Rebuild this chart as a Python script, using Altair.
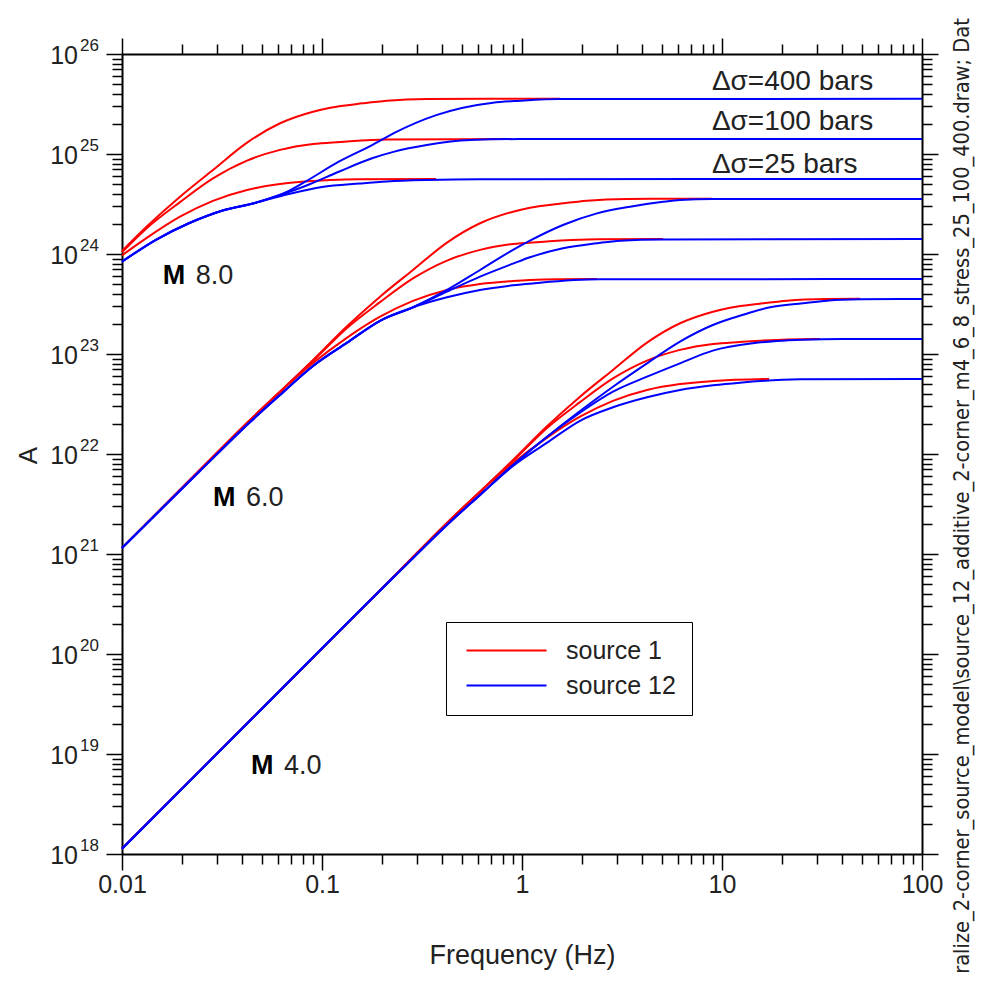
import altair as alt
import pandas as pd

FONT = "Liberation Sans"
TXT = "#222222"

# ---------------- curves: (frequency Hz, A) ----------------
# M 8.0, source 1
M8_S1_400 = [(0.01, 1.07e24), (0.0133, 1.88e24), (0.0195, 3.74e24), (0.0285, 6.92e24), (0.0422, 1.3e25),
             (0.0617, 2.03e25), (0.0902, 2.65e25), (0.11, 2.9e25), (0.16, 3.21e25), (0.211, 3.41e25),
             (0.335, 3.55e25), (1.55, 3.57e25)]
M8_S1_100 = [(0.01, 1.04e24), (0.0133, 1.81e24), (0.0195, 3.3e24), (0.0285, 5.7e24), (0.0422, 8.6e24),
             (0.0617, 1.1e25), (0.0902, 1.26e25), (0.123, 1.32e25), (0.211, 1.4e25), (0.891, 1.41e25)]
M8_S1_25 = [(0.01, 9.7e23), (0.0133, 1.45e24), (0.0195, 2.36e24), (0.0285, 3.4e24), (0.0422, 4.37e24),
            (0.0617, 5.01e24), (0.0902, 5.37e24), (0.11, 5.5e24), (0.15, 5.6e24), (0.372, 5.62e24)]
# M 8.0, source 12
M8_S12_LOW = [(0.01, 8.38e23), (0.0147, 1.38e24), (0.0216, 2.03e24), (0.0316, 2.71e24), (0.0462, 3.24e24)]
M8_S12_25 = M8_S12_LOW + [(0.0683, 3.98e24), (0.1, 4.68e24), (0.155, 5.07e24), (0.211, 5.31e24),
                          (0.335, 5.5e24), (0.617, 5.6e24), (100, 5.62e24)]
M8_S12_100 = M8_S12_LOW + [(0.0683, 4.17e24), (0.0825, 4.79e24), (0.1213, 6.65e24), (0.178, 9.06e24),
                           (0.2275, 1.05e25), (0.3338, 1.23e25), (0.55, 1.38e25), (0.977, 1.41e25), (100, 1.41e25)]
M8_S12_400 = M8_S12_LOW + [(0.0683, 4.27e24), (0.0825, 5.28e24), (0.1213, 8.38e24), (0.178, 1.23e25),
                           (0.2275, 1.61e25), (0.3725, 2.45e25), (0.7166, 3.26e25), (0.977, 3.41e25),
                           (1.55, 3.55e25), (100, 3.56e25)]

# M 6.0, source 1
M6_S1_LOW = [(0.01, 1.15e21), (0.0245, 6.92e21), (0.0437, 2.19e22), (0.0617, 4.2e22)]
M6_S1_400 = M6_S1_LOW + [(0.0902, 8.71e22), (0.133, 1.88e23), (0.195, 3.74e23), (0.285, 6.92e23),
                         (0.4217, 1.3e24), (0.617, 2.03e24), (0.9016, 2.65e24), (1.096, 2.9e24),
                         (1.603, 3.21e24), (2.113, 3.41e24), (3.35, 3.55e24), (8.91, 3.57e24)]
M6_S1_100 = M6_S1_LOW + [(0.0902, 8.51e22), (0.133, 1.81e23), (0.195, 3.3e23), (0.285, 5.7e23),
                         (0.4217, 8.6e23), (0.617, 1.1e24), (0.9016, 1.26e24), (1.23, 1.32e24),
                         (2.113, 1.4e24), (5.07, 1.41e24)]
M6_S1_25 = M6_S1_LOW + [(0.0902, 8.13e22), (0.133, 1.45e23), (0.195, 2.36e23), (0.285, 3.4e23),
                        (0.4217, 4.37e23), (0.617, 5.01e23), (0.9016, 5.37e23), (1.096, 5.5e23),
                        (1.5, 5.6e23), (2.371, 5.62e23)]
# M 6.0, source 12
M6_S12_LOW = [(0.01, 1.15e21), (0.0245, 6.76e21), (0.0437, 2.09e22), (0.0617, 3.9e22), (0.0902, 7.59e22),
              (0.133, 1.29e23), (0.195, 2.15e23), (0.285, 2.93e23)]
M6_S12_25 = M6_S12_LOW + [(0.4217, 3.69e23), (0.617, 4.37e23), (0.9016, 4.86e23), (1.23, 5.17e23),
                          (2.455, 5.58e23), (100, 5.62e23)]
M6_S12_100 = M6_S12_LOW + [(0.4217, 4.2e23), (0.617, 5.93e23), (0.9016, 8.0e23), (1.096, 9.27e23),
                           (1.603, 1.14e24), (2.371, 1.28e24), (3.09, 1.36e24), (5.07, 1.4e24), (100, 1.41e24)]
M6_S12_400 = M6_S12_LOW + [(0.4217, 4.37e23), (0.617, 6.92e23), (0.9016, 1.1e24), (1.096, 1.36e24),
                           (1.603, 1.95e24), (2.371, 2.55e24), (3.467, 2.97e24), (5.07, 3.33e24),
                           (6.166, 3.47e24), (9.0, 3.55e24), (100, 3.55e24)]

# M 4.0, source 1
M4_S1_LOW = [(0.01, 1.13e18), (0.0437, 2.16e19), (0.245, 6.85e20), (0.437, 2.19e21), (0.617, 4.2e21)]
M4_S1_400 = M4_S1_LOW + [(0.902, 8.71e21), (1.33, 1.88e22), (1.95, 3.74e22), (2.85, 6.92e22),
                         (4.217, 1.3e23), (6.17, 2.03e23), (9.016, 2.65e23), (10.96, 2.9e23),
                         (16.03, 3.21e23), (21.13, 3.41e23), (33.5, 3.55e23), (49.0, 3.57e23)]
M4_S1_100 = M4_S1_LOW + [(0.902, 8.51e21), (1.33, 1.81e22), (1.95, 3.3e22), (2.85, 5.7e22),
                         (4.217, 8.6e22), (6.17, 1.1e23), (9.016, 1.26e23), (12.3, 1.32e23),
                         (21.13, 1.4e23), (30.9, 1.41e23)]
M4_S1_25 = M4_S1_LOW + [(0.902, 8.13e21), (1.33, 1.45e22), (1.95, 2.36e22), (2.85, 3.4e22),
                        (4.217, 4.37e22), (6.17, 5.01e22), (9.016, 5.37e22), (10.96, 5.5e22),
                        (15.0, 5.6e22), (17.2, 5.62e22)]
# M 4.0, source 12
M4_S12_LOW = [(0.01, 1.13e18), (0.0437, 2.16e19), (0.245, 6.76e20), (0.437, 2.09e21), (0.617, 3.9e21)]
M4_S12_25 = M4_S12_LOW + [(0.902, 7.59e21), (1.33, 1.29e22), (1.95, 2.15e22), (2.85, 2.93e22),
                          (4.217, 3.69e22), (6.17, 4.37e22), (9.016, 4.86e22), (12.3, 5.17e22),
                          (24.55, 5.58e22), (100, 5.62e22)]
M4_S12_100 = M4_S12_LOW + [(0.902, 7.76e21), (1.33, 1.48e22), (1.95, 2.59e22), (2.85, 4.2e22),
                           (4.217, 5.93e22), (6.166, 8.07e22), (9.0, 1.08e23), (14.3, 1.28e23),
                           (18.8, 1.35e23), (25.4, 1.39e23), (40.0, 1.41e23), (100, 1.41e23)]
M4_S12_400 = M4_S12_LOW + [(0.902, 7.76e21), (1.33, 1.48e22), (1.95, 2.69e22), (2.85, 4.71e22),
                           (4.217, 8.07e22), (6.166, 1.33e23), (9.0, 1.95e23), (11.84, 2.36e23),
                           (14.3, 2.65e23), (17.4, 2.93e23), (25.4, 3.21e23), (33.5, 3.41e23),
                           (49.0, 3.52e23), (100, 3.55e23)]

SOURCES = ["source 1", "source 12"]
COLORS = ["#ff0000", "#0000ff"]

RED_CURVES = {"M8_400": M8_S1_400, "M8_100": M8_S1_100, "M8_25": M8_S1_25,
              "M6_400": M6_S1_400, "M6_100": M6_S1_100, "M6_25": M6_S1_25,
              "M4_400": M4_S1_400, "M4_100": M4_S1_100, "M4_25": M4_S1_25}
BLUE_CURVES = {"M8_400": M8_S12_400, "M8_100": M8_S12_100, "M8_25": M8_S12_25,
               "M6_400": M6_S12_400, "M6_100": M6_S12_100, "M6_25": M6_S12_25,
               "M4_400": M4_S12_400, "M4_100": M4_S12_100, "M4_25": M4_S12_25}

# annotations (positions in data units)
STRESS_LABELS = ["\u0394\u03c3=400 bars", "\u0394\u03c3=100 bars", "\u0394\u03c3=25 bars"]
STRESS_F = [8.9, 8.9, 8.9]
STRESS_A = [5.25e25, 2.09e25, 7.76e24]

MAG_NUM = ["8.0", "6.0", "4.0"]
MAG_F = [0.0160, 0.0285, 0.0442]
MAG_A = [6.0e23, 3.63e21, 7.6e18]

Y_DECADES = [1e18, 1e19, 1e20, 1e21, 1e22, 1e23, 1e24, 1e25, 1e26]
Y_EXPONENTS = ["18", "19", "20", "21", "22", "23", "24", "25", "26"]
X_DECADES = [0.01, 0.1, 1, 10, 100]

RIGHT_TEXT = "ralize_2-corner_source_model\\source_12_additive_2-corner_m4_6_8_stress_25_100_400.draw; Dat"


def frame(curves, src):
    rows = []
    for key, pts in curves.items():
        for f, a in pts:
            rows.append({"f": f, "A": a, "source": src, "curve": key + "_" + src})
    return pd.DataFrame(rows)


df_red = frame(RED_CURVES, SOURCES[0])
df_blue = frame(BLUE_CURVES, SOURCES[1])

x_ticks = []
for d in X_DECADES[:-1]:
    x_ticks += [d * m for m in range(1, 10)]
x_ticks.append(X_DECADES[-1])
y_ticks = []
for d in Y_DECADES[:-1]:
    y_ticks += [d * m for m in range(1, 10)]
y_ticks.append(Y_DECADES[-1])

MAJOR = "abs(log(datum.value)/LN10 - round(log(datum.value)/LN10)) < 0.01"
TICK_SIZE = {"condition": {"test": MAJOR, "value": 16}, "value": 10}

xs = alt.Scale(type="log", domain=[0.01, 100], nice=False)
ys = alt.Scale(type="log", domain=[1e18, 1e26], nice=False)

color = alt.Color(
    "source:N",
    scale=alt.Scale(domain=SOURCES, range=COLORS),
    legend=alt.Legend(
        title=None, orient="none", legendX=324, legendY=568,
        symbolType="M-1,0H9", symbolSize=256, symbolStrokeWidth=2,
        labelFont=FONT, labelFontSize=25, labelColor=TXT, labelOffset=79,
        padding=16, rowPadding=9, strokeColor="black", fillColor="white",
    ),
)

axis_common = dict(tickSize=TICK_SIZE, tickWidth=1.5, tickColor="black", domainColor="black",
                   domainWidth=2, grid=False)

x_bottom = alt.Axis(orient="bottom", values=x_ticks, format="~g",
                    labelExpr=MAJOR + " ? datum.label : ''",
                    labelFont=FONT, labelFontSize=25, labelColor=TXT, labelPadding=2,
                    labelOverlap=False, labelFlush=False,
                    title="Frequency (Hz)", titleFont=FONT, titleFontSize=27, titleFontWeight="normal",
                    titleColor=TXT, titleX=400, titleY=101, titleBaseline="middle", **axis_common)
y_left = alt.Axis(orient="left", values=y_ticks, labels=False,
                  title="A", titleFont=FONT, titleFontSize=26, titleFontWeight="normal", titleColor=TXT,
                  titleAngle=270, titleX=-94, titleY=401, titleAlign="center", titleBaseline="middle",
                  **axis_common)
x_top = alt.Axis(orient="top", values=x_ticks, labels=False, title=None, **axis_common)
y_right = alt.Axis(orient="right", values=y_ticks, labels=False, title=None, **axis_common)

red = alt.Chart(df_red).mark_line(strokeWidth=2, interpolate="monotone").encode(
    x=alt.X("f:Q", scale=xs, axis=x_bottom),
    y=alt.Y("A:Q", scale=ys, axis=y_left),
    color=color,
    detail="curve:N",
)
blue = alt.Chart(df_blue).mark_line(strokeWidth=2, interpolate="monotone").encode(
    x=alt.X("f:Q", scale=xs, axis=x_top),
    y=alt.Y("A:Q", scale=ys, axis=y_right),
    color=color,
    detail="curve:N",
)

stress = alt.Chart(pd.DataFrame({"f": STRESS_F, "A": STRESS_A, "t": STRESS_LABELS})).mark_text(
    align="left", baseline="middle", font=FONT, fontSize=28, color=TXT
).encode(x=alt.X("f:Q", scale=xs, axis=None), y=alt.Y("A:Q", scale=ys, axis=None), text="t:N")

mag_df = pd.DataFrame({"f": MAG_F, "A": MAG_A, "n": MAG_NUM, "m": ["M"] * 3})
mag_m = alt.Chart(mag_df).mark_text(
    align="left", baseline="middle", font=FONT, fontSize=27, fontWeight="bold", color="black"
).encode(x=alt.X("f:Q", scale=xs, axis=None), y=alt.Y("A:Q", scale=ys, axis=None), text="m:N")
mag_n = alt.Chart(mag_df).mark_text(
    align="left", baseline="middle", font=FONT, fontSize=27, color=TXT, dx=33
).encode(x=alt.X("f:Q", scale=xs, axis=None), y=alt.Y("A:Q", scale=ys, axis=None), text="n:N")

ylab_df = pd.DataFrame({"A": Y_DECADES, "e": Y_EXPONENTS, "b": ["10"] * len(Y_DECADES)})
ylab_base = alt.Chart(ylab_df).mark_text(
    align="right", baseline="middle", font=FONT, fontSize=25, color=TXT, dy=2
).encode(x=alt.value(-44), y=alt.Y("A:Q", scale=ys, axis=None), text="b:N")
ylab_exp = alt.Chart(ylab_df).mark_text(
    align="left", baseline="middle", font=FONT, fontSize=17, color=TXT, dy=-8
).encode(x=alt.value(-42), y=alt.Y("A:Q", scale=ys, axis=None), text="e:N")

side = alt.Chart(pd.DataFrame({"t": [RIGHT_TEXT]})).mark_text(
    angle=270, align="center", baseline="middle", font="DejaVu Sans Condensed, Liberation Sans, sans-serif",
    fontSize=21.6, color=TXT
).encode(x=alt.value(841), y=alt.value(442), text="t:N")

chart = alt.layer(red, blue, stress, mag_m, mag_n, ylab_base, ylab_exp, side).resolve_axis(
    x="independent", y="independent"
).properties(
    width=800, height=800, autosize="none",
    padding={"left": 114, "top": 46, "right": 55, "bottom": 131},
).configure_view(strokeWidth=0).configure(background="white")

chart.save("out.html", embed_options={"renderer": "svg", "actions": False})
